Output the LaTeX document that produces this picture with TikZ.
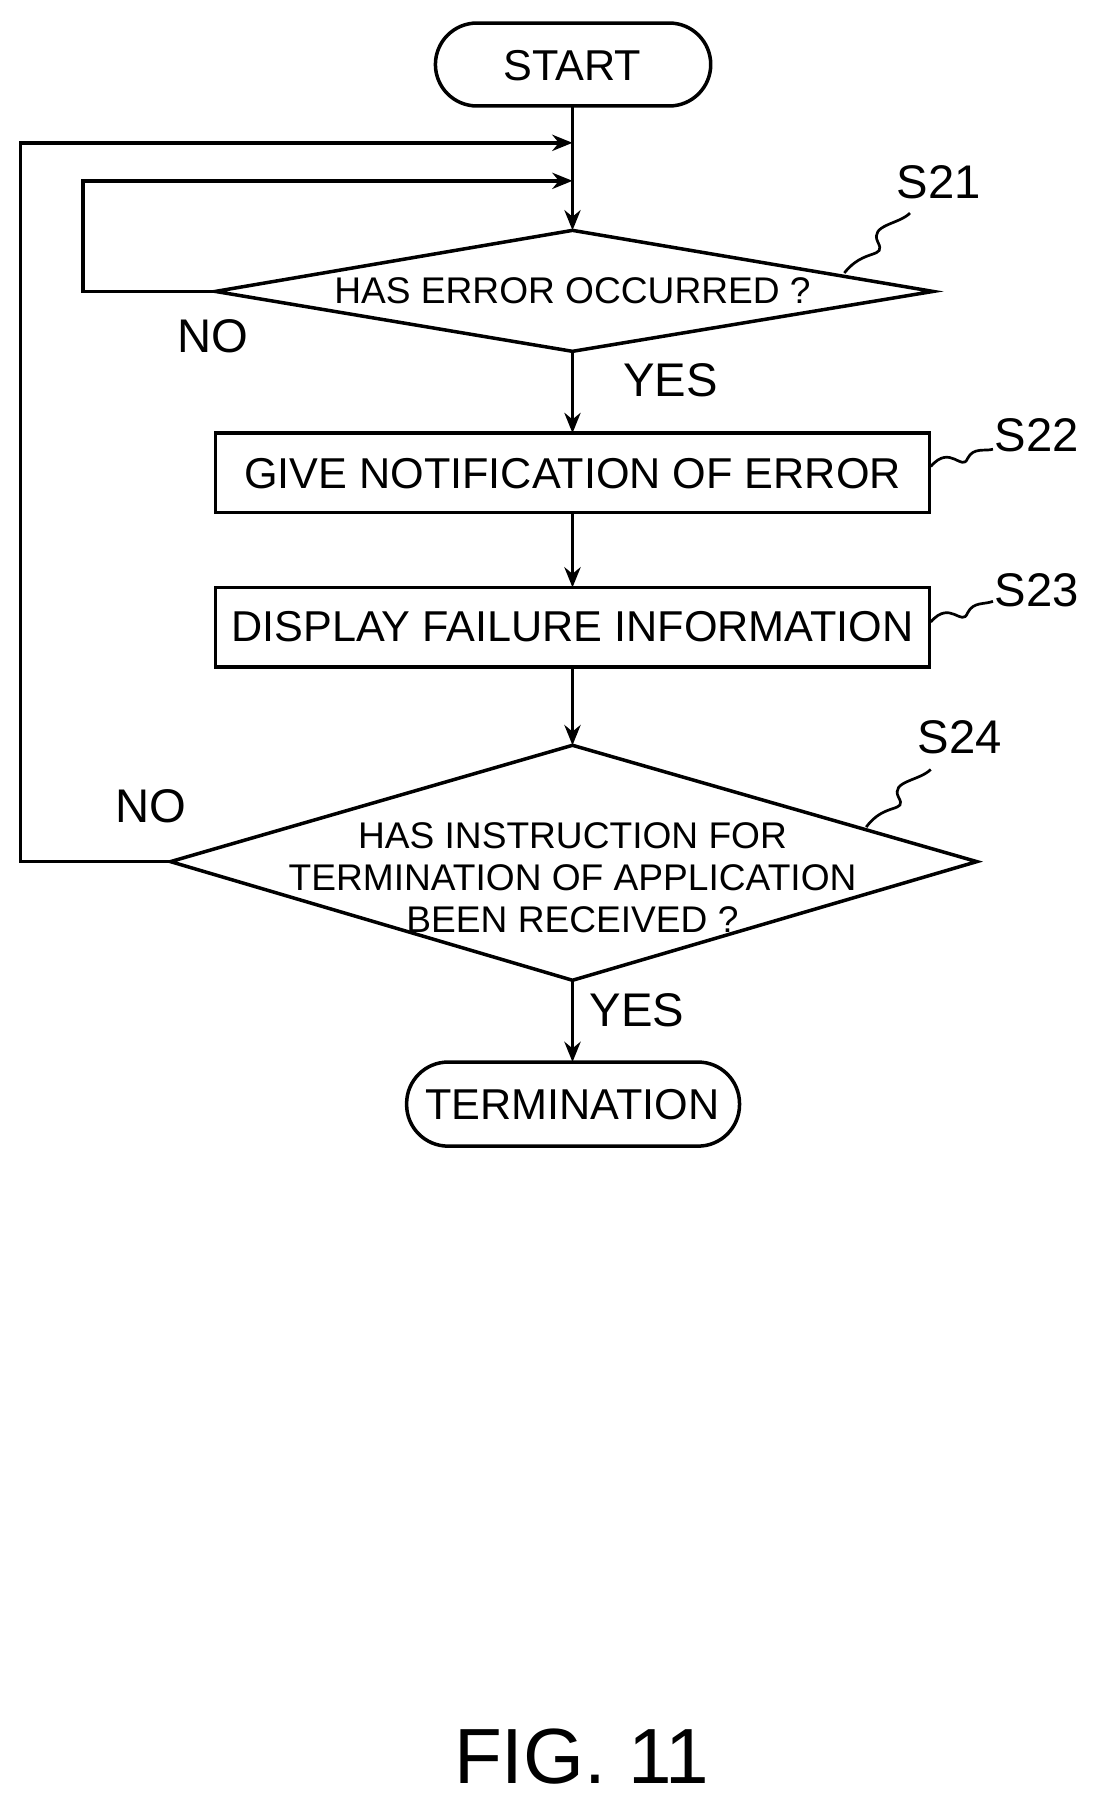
\documentclass[tikz,border=0pt]{standalone}
\usepackage{fontspec}
\setmainfont{Liberation Sans}
\usetikzlibrary{arrows.meta}
\begin{document}
\begin{tikzpicture}[x=0.03cm,y=-0.03cm,
  box/.style={draw,line width=2.6pt,inner sep=0},
  fl/.style={line width=2.6pt},
  arr/.style={fl,-{Stealth[length=15pt,width=12pt]}},
  txt/.style={font=\fontsize{32}{36}\selectfont},
  dtx/.style={font=\fontsize{27.5}{31}\selectfont,align=center},
  lab/.style={font=\fontsize{35}{38}\selectfont}]
\useasboundingbox (0,0) rectangle (960,1580);
\draw[box,rounded corners=36*0.03cm] (378,20) rectangle (617,92);
\node[txt] (start) at (497,57) {START};
\coordinate (startb) at (497,92);
\draw[box] (187,253) -- (497,200) -- (810,253) -- (497,305) -- cycle;
\node[dtx] (d1) at (497,252) {HAS ERROR OCCURRED ?};
\draw[box] (187,376) rectangle (807,445);
\node[txt] (s22) at (497,411) {GIVE NOTIFICATION OF ERROR};
\draw[box] (187,510) rectangle (807,579);
\node[txt] (s23) at (497,544) {DISPLAY FAILURE INFORMATION};
\draw[box] (148,748) -- (497,647) -- (848,748) -- (497,851) -- cycle;
\node[dtx] (d2) at (497,762) {HAS INSTRUCTION FOR\\TERMINATION OF APPLICATION\\BEEN RECEIVED ?};
\draw[box,rounded corners=36*0.03cm] (353,922) rectangle (642,995);
\node[txt] (term) at (497,959) {TERMINATION};
\coordinate (j1) at (497,124); \coordinate (j2) at (497,157);
\coordinate (d1t) at (497,200); \coordinate (d1b) at (497,305); \coordinate (d1l) at (187,253);
\coordinate (d2t) at (497,647); \coordinate (d2b) at (497,851); \coordinate (d2l) at (148,748);
\draw[fl] (startb) -- (j1);
\draw[arr] (j1) -- (d1t);
\draw[arr] (d2l) -| (18,124) -- (j1);
\draw[arr] (d1l) -| (72,157) -- (j2);
\draw[arr] (d1b) -- (497,376);
\draw[arr] (497,445) -- (497,510);
\draw[arr] (497,579) -- (d2t);
\draw[arr] (d2b) -- (497,922);
\node[lab] (no1) at (185,292) {NO};
\node[lab] (yes1) at (582,330) {YES};
\node[lab] (no2) at (131,700) {NO};
\node[lab] (yes2) at (553,877) {YES};
\node[lab] (l21) at (815,158) {S21};
\node[lab] (l22) at (900,378) {S22};
\node[lab] (l23) at (900,512) {S23};
\node[lab] (l24) at (833,640) {S24};
\draw[line width=2pt] (733,237) .. controls (750,215) and (770,225) .. (762,210) .. controls (755,195) and (780,195) .. (790,185);
\draw[line width=2pt] (808,405) .. controls (825,385) and (835,410) .. (840,398) .. controls (845,388) and (855,392) .. (862,390);
\draw[line width=2pt] (808,540) .. controls (825,520) and (835,545) .. (840,532) .. controls (845,522) and (855,525) .. (862,522);
\draw[line width=2pt] (752,718) .. controls (768,696) and (788,706) .. (780,692) .. controls (773,678) and (798,678) .. (808,668);
\node[font=\fontsize{58}{64}\selectfont] (fig) at (505,1525) {FIG. 11};
\end{tikzpicture}
\end{document}
